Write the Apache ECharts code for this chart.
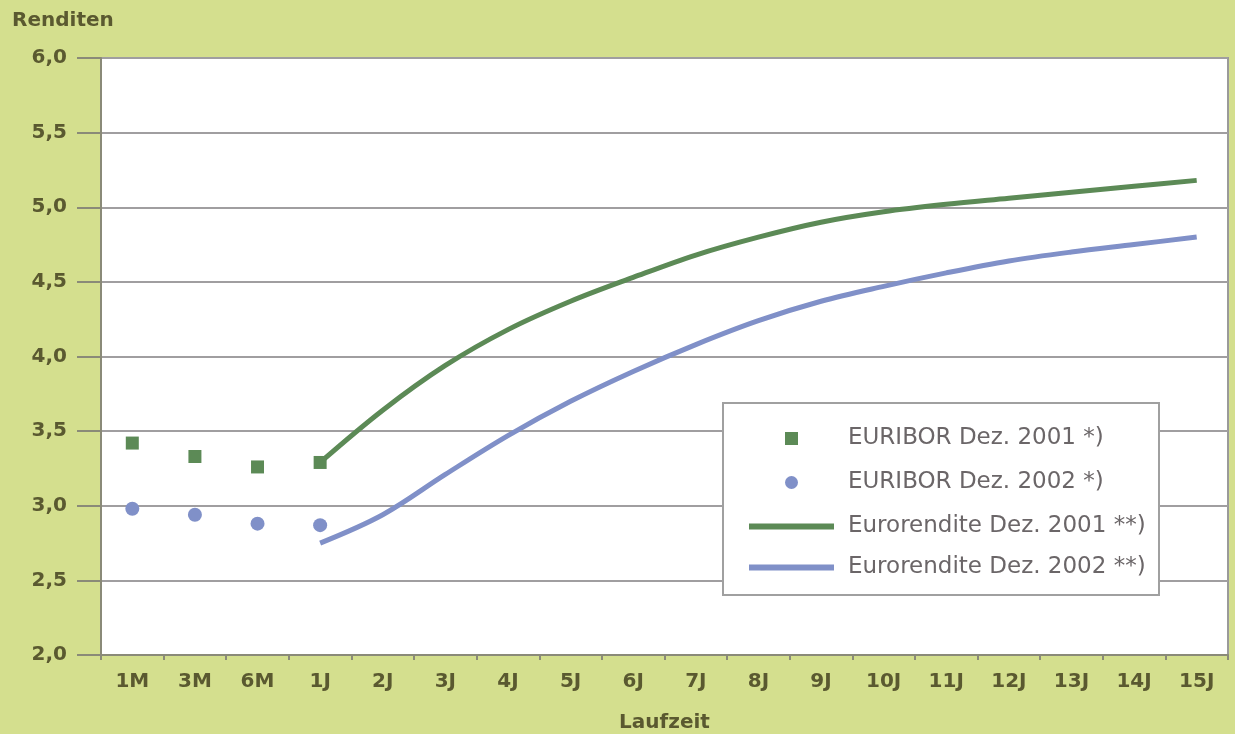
<!DOCTYPE html>
<html><head><meta charset="utf-8">
<script src="https://cdn.jsdelivr.net/npm/echarts@6/dist/echarts.min.js"></script>
<style>html,body{margin:0;padding:0;background:#d4df8e;}#c{width:1235px;height:734px;}</style>
</head><body><div id="c"></div>
<script>
const categories = ['1M','3M','6M','1J','2J','3J','4J','5J','6J','7J','8J','9J','10J','11J','12J','13J','14J','15J'];
const yTicks = [2.0,2.5,3.0,3.5,4.0,4.5,5.0,5.5,6.0];
const euribor2001 = [3.42,3.33,3.26,3.29,null,null,null,null,null,null,null,null,null,null,null,null,null,null];
const euribor2002 = [2.98,2.94,2.88,2.87,null,null,null,null,null,null,null,null,null,null,null,null,null,null];
const rendite2001 = [null,null,null,3.29,3.64,3.94,4.18,4.37,4.53,4.68,4.80,4.90,4.97,5.02,5.06,5.10,5.14,5.18];
const rendite2002 = [null,null,null,2.75,2.94,3.21,3.47,3.70,3.90,4.08,4.24,4.37,4.47,4.56,4.64,4.70,4.75,4.80];
const names = ['EURIBOR Dez. 2001 *)','EURIBOR Dez. 2002 *)','Eurorendite Dez. 2001 **)','Eurorendite Dez. 2002 **)'];
const green = '#5c8a56', blue = '#8090c8';
const labelColor = '#5a5930';
const font = '"DejaVu Sans", sans-serif';

const chart = echarts.init(document.getElementById('c'));
chart.setOption({
  backgroundColor: '#d4df8e',
  animation: false,
  title: {text: 'Renditen', left: 7, top: 6, textStyle: {fontFamily: font, fontSize: 20, fontWeight: 'bold', color: labelColor}},
  grid: {left: 101, right: 7, top: 58, bottom: 79, outerBoundsMode: 'none', containLabel: false, show: true, backgroundColor: '#ffffff', borderColor: '#9a9a9a', borderWidth: 2},
  graphic: [{type: 'rect', shape: {x: 723, y: 403, width: 436, height: 192}, style: {fill: '#ffffff', stroke: '#a0a0a0', lineWidth: 2}, z: 50}],
  legend: [
    {data: [names[0], names[1]], orient: 'vertical', left: 780, top: 421, itemWidth: 13, itemHeight: 13, itemGap: 19, z: 60,
     itemStyle: {opacity: 1},
     textStyle: {fontFamily: font, fontSize: 23, lineHeight: 25, color: '#6b6668', padding: [0,0,0,45]}},
    {data: [{name: names[2], icon: 'rect'}, {name: names[3], icon: 'rect'}], orient: 'vertical', left: 744, top: 509, itemWidth: 85, itemHeight: 6, itemGap: 16, z: 60,
     textStyle: {fontFamily: font, fontSize: 23, lineHeight: 25, color: '#6b6668', padding: [0,0,0,9]}}
  ],
  xAxis: {type: 'category', data: categories, boundaryGap: true,
    name: 'Laufzeit', nameLocation: 'middle', nameGap: 58,
    nameTextStyle: {fontFamily: font, fontSize: 20, fontWeight: 'bold', color: labelColor},
    axisLine: {lineStyle: {color: '#8a8a78', width: 2}},
    axisTick: {show: true, length: 5, lineStyle: {color: '#8a8a78', width: 2}},
    axisLabel: {fontFamily: font, fontSize: 20, fontWeight: 'bold', color: labelColor, margin: 17}},
  yAxis: {type: 'value', min: 2, max: 6, interval: 0.5,
    axisLine: {show: true, lineStyle: {color: '#8a8a78', width: 2}},
    axisTick: {show: true, length: 24, lineStyle: {color: '#8a8a78', width: 2}},
    splitLine: {lineStyle: {color: '#a09ea0', width: 2}},
    axisLabel: {fontFamily: font, fontSize: 20, fontWeight: 'bold', color: labelColor, margin: 34, formatter: v => v.toFixed(1).replace('.', ',')}},
  series: [
    {name: names[0], type: 'scatter', data: euribor2001, symbol: 'rect', symbolSize: 13, itemStyle: {color: green, opacity: 1}, z: 5},
    {name: names[1], type: 'scatter', data: euribor2002, symbol: 'circle', symbolSize: 14, itemStyle: {color: blue, opacity: 1}, z: 5},
    {name: names[2], type: 'line', data: rendite2001, smooth: 0.35, showSymbol: false, symbol: 'none', lineStyle: {color: green, width: 5}, itemStyle: {color: green}, z: 4},
    {name: names[3], type: 'line', data: rendite2002, smooth: 0.35, showSymbol: false, symbol: 'none', lineStyle: {color: blue, width: 5}, itemStyle: {color: blue}, z: 4}
  ]
});
</script></body></html>
